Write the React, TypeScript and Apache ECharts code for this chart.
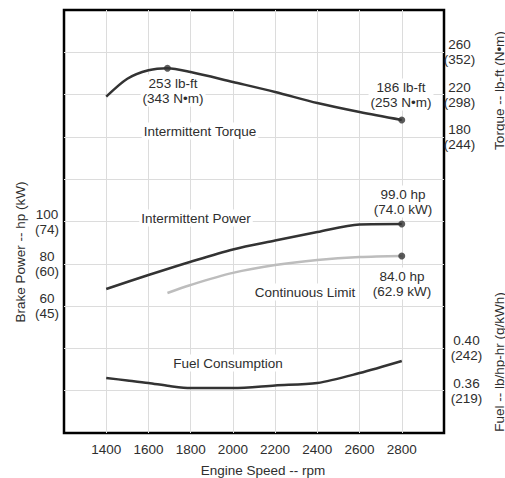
import { useEffect, useRef } from "react";
import * as echarts from "echarts";

// ---- data ----
const rpmLabels = [1400, 1600, 1800, 2000, 2200, 2400, 2600, 2800];

const powerTickLabels: Record<string, string> = { "60": "60\n(45)", "80": "80\n(60)", "100": "100\n(74)" };
const torqueTickValues = [180, 220, 260];
const torqueTickLabels: Record<string, string> = { "180": "180\n(244)", "220": "220\n(298)", "260": "260\n(352)" };
const fuelTickValues = [0.36, 0.4];
const fuelTickLabels: Record<string, string> = { "0.36": "0.36\n(219)", "0.40": "0.40\n(242)" };

const torqueRpm = [1400, 1500, 1600, 1690, 1800, 2000, 2200, 2400, 2600, 2800];
const torqueLbft = [218, 235, 243, 245, 241.4, 232, 222.5, 212, 203.5, 196];

const powerRpm = [1400, 1600, 1800, 2000, 2200, 2400, 2600, 2800];
const powerHp = [68.1, 74.7, 81, 86.8, 91, 95, 98.6, 98.8];

const contRpm = [1690, 1800, 2000, 2200, 2400, 2600, 2800];
const contHp = [66.2, 70, 75.7, 79.4, 81.8, 83.2, 83.7];

const fuelRpm = [1400, 1500, 1600, 1700, 1800, 2000, 2200, 2400, 2600, 2800];
const fuelVal = [0.372, 0.3697, 0.3673, 0.3644, 0.3626, 0.3626, 0.365, 0.3673, 0.3767, 0.3881];

const torqueMarkRpm = [1690, 2800];
const torqueMarkVal = [245, 196];
const powerMarkRpm = [2800, 2800];
const powerMarkVal = [98.8, 83.7];

const annotations = [
  { text: "253 lb-ft\n(343 N•m)", x: 173, y: 90.5 },
  { text: "186 lb-ft\n(253 N•m)", x: 401, y: 94.5 },
  { text: "Intermittent Torque", x: 200, y: 131 },
  { text: "Intermittent Power", x: 196, y: 218 },
  { text: "99.0 hp\n(74.0 kW)", x: 403, y: 201.5 },
  { text: "Continuous Limit", x: 305, y: 292 },
  { text: "84.0 hp\n(62.9 kW)", x: 402, y: 283.5 },
  { text: "Fuel Consumption", x: 228, y: 363 },
];

const FONT = '"Liberation Sans", Arial, sans-serif';
const TXT = "#2e2e2e";
const FS = 13.5;

const zip = (a: number[], b: number[]) => a.map((v, i) => [v, b[i]]);

export default function App() {
  const ref = useRef<HTMLDivElement>(null);
  useEffect(() => {
    const chart = echarts.init(ref.current!, null, { renderer: "svg" });
    const labelStyle = { fontFamily: FONT, fontSize: FS, color: TXT, lineHeight: 15 };
    const lineSeries = (name: string, data: number[][], yAxisIndex: number, color: string) => ({
      type: "line",
      name,
      data,
      yAxisIndex,
      showSymbol: false,
      smooth: 0.3,
      lineStyle: { color, width: 2.5 },
      itemStyle: { color },
      z: 5,
    });
    const option: any = {
      animation: false,
      backgroundColor: "#fff",
      grid: {
        left: 64,
        right: 61,
        top: 10,
        bottom: 45,
        show: true,
        borderColor: "#000",
        borderWidth: 2.5,
        backgroundColor: "#fff",
        outerBoundsMode: "none",
      },
      xAxis: {
        type: "value",
        min: 1200,
        max: 3000,
        interval: 200,
        axisLine: { show: false },
        axisTick: { show: false },
        splitLine: { show: true, showMinLine: false, showMaxLine: false, lineStyle: { color: "#dcdcdc", width: 1 } },
        axisLabel: {
          ...labelStyle,
          margin: 9,
          formatter: (v: number) => (rpmLabels.includes(v) ? String(v) : ""),
        },
      },
      yAxis: [
        {
          type: "value",
          position: "left",
          min: 0,
          max: 200,
          interval: 20,
          axisLine: { show: false },
          axisTick: { show: false },
          splitLine: { show: true, showMinLine: false, showMaxLine: false, lineStyle: { color: "#dcdcdc", width: 1 } },
          axisLabel: {
            ...labelStyle,
            align: "center",
            margin: 17,
            formatter: (v: number) => powerTickLabels[String(v)] ?? "",
          },
        },
        {
          type: "value",
          position: "right",
          min: -100,
          max: 300,
          interval: 40,
          axisLine: { show: false },
          axisTick: { show: false },
          splitLine: { show: false },
          axisLabel: {
            ...labelStyle,
            align: "center",
            margin: 15.5,
            customValues: torqueTickValues,
            formatter: (v: number) => torqueTickLabels[String(Math.round(v))] ?? "",
          },
        },
        {
          type: "value",
          position: "right",
          min: 0.32,
          max: 0.72,
          interval: 0.04,
          axisLine: { show: false },
          axisTick: { show: false },
          splitLine: { show: false },
          axisLabel: {
            ...labelStyle,
            align: "center",
            margin: 22.5,
            customValues: fuelTickValues,
            formatter: (v: number) => fuelTickLabels[v.toFixed(2)] ?? "",
          },
        },
      ],
      series: [
        lineSeries("Intermittent Torque", zip(torqueRpm, torqueLbft), 1, "#333"),
        lineSeries("Intermittent Power", zip(powerRpm, powerHp), 0, "#333"),
        lineSeries("Continuous Limit", zip(contRpm, contHp), 0, "#bdbdbd"),
        lineSeries("Fuel Consumption", zip(fuelRpm, fuelVal), 2, "#333"),
        {
          type: "scatter",
          yAxisIndex: 1,
          data: zip(torqueMarkRpm, torqueMarkVal),
          symbol: "circle",
          symbolSize: 7,
          itemStyle: { color: "#333" },
          z: 6,
        },
        {
          type: "scatter",
          yAxisIndex: 0,
          data: zip(powerMarkRpm, powerMarkVal),
          symbol: "circle",
          symbolSize: 7,
          itemStyle: { color: "#333" },
          z: 6,
        },
      ],
      graphic: [
        ...annotations.map((a) => ({
          type: "text",
          x: a.x,
          y: a.y,
          z: 3,
          style: {
            text: a.text,
            fill: TXT,
            fontFamily: FONT,
            fontSize: FS,
            lineHeight: 15,
            align: "center",
            verticalAlign: "middle",
            backgroundColor: "#fff",
            padding: [1, 2],
          },
        })),
        {
          type: "text",
          x: 263,
          y: 470,
          style: { text: "Engine Speed -- rpm", fill: TXT, fontFamily: FONT, fontSize: FS, align: "center", verticalAlign: "middle" },
        },
        {
          type: "text",
          x: 20,
          y: 252,
          rotation: Math.PI / 2,
          style: { text: "Brake Power -- hp (kW)", fill: TXT, fontFamily: FONT, fontSize: FS, align: "center", verticalAlign: "middle" },
        },
        {
          type: "text",
          x: 499,
          y: 90.5,
          rotation: Math.PI / 2,
          style: { text: "Torque -- lb-ft (N•m)", fill: TXT, fontFamily: FONT, fontSize: FS, align: "center", verticalAlign: "middle" },
        },
        {
          type: "text",
          x: 499,
          y: 362,
          rotation: Math.PI / 2,
          style: { text: "Fuel -- lb/hp-hr (g/kWh)", fill: TXT, fontFamily: FONT, fontSize: FS, align: "center", verticalAlign: "middle" },
        },
      ],
    };
    chart.setOption(option);
    return () => chart.dispose();
  }, []);
  return (
    <div
      ref={ref}
      style={{ position: "fixed", left: 0, top: 0, width: 505, height: 478, background: "#fff" }}
    />
  );
}
